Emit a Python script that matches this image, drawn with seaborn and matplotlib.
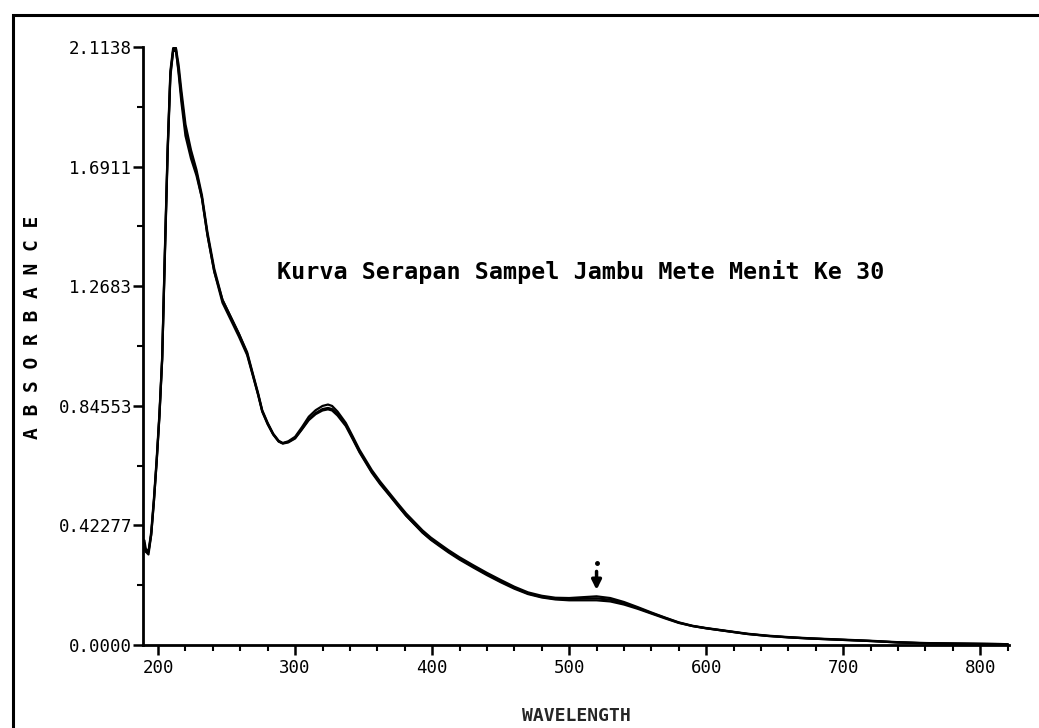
import numpy as np
import pandas as pd
import matplotlib
matplotlib.use("Agg")
import matplotlib.pyplot as plt
import seaborn as sns
from matplotlib.patches import Rectangle
from matplotlib.ticker import FixedLocator, MultipleLocator

# ---------------- data ----------------
wavelength = [190, 191, 193, 195, 197, 199, 201, 203, 205, 207,
              209, 211, 213, 215, 217, 220, 224, 228, 232, 236,
              241, 247, 253, 259, 265, 269, 273, 276, 280, 284,
              288, 291, 295, 300, 305, 310, 315, 320, 324, 327,
              331, 337, 342, 347, 352, 356, 362, 369, 375, 381,
              387, 393, 399, 405, 412, 420, 430, 440, 450, 460,
              470, 480, 490, 500, 510, 520, 530, 540, 550, 560,
              570, 580, 590, 600, 615, 630, 645, 660, 675, 690,
              705, 720, 740, 760, 780, 800, 820]

scan_1 = [0.37, 0.34, 0.33, 0.40, 0.52, 0.66, 0.82, 1.02, 1.40, 1.76,
          2.03, 2.11, 2.11, 2.02, 1.92, 1.80, 1.72, 1.66, 1.58, 1.45,
          1.32, 1.22, 1.16, 1.10, 1.035, 0.962, 0.89, 0.83, 0.785, 0.747,
          0.722, 0.714, 0.720, 0.736, 0.770, 0.807, 0.830, 0.845, 0.850, 0.845,
          0.825, 0.785, 0.738, 0.690, 0.650, 0.618, 0.578, 0.536, 0.500, 0.465,
          0.435, 0.405, 0.380, 0.359, 0.335, 0.310, 0.282, 0.255, 0.230, 0.206,
          0.186, 0.174, 0.167, 0.166, 0.169, 0.172, 0.166, 0.152, 0.134, 0.115,
          0.097, 0.080, 0.068, 0.060, 0.050, 0.040, 0.033, 0.028, 0.024, 0.021,
          0.018, 0.015, 0.010, 0.007, 0.005, 0.004, 0.003]

scan_2 = [0.36, 0.33, 0.33, 0.39, 0.51, 0.65, 0.81, 1.01, 1.38, 1.74,
          2.01, 2.10, 2.11, 2.05, 1.96, 1.84, 1.75, 1.68, 1.59, 1.46,
          1.33, 1.22, 1.16, 1.10, 1.03, 0.958, 0.886, 0.827, 0.782, 0.745,
          0.720, 0.713, 0.718, 0.732, 0.764, 0.798, 0.820, 0.834, 0.838, 0.834,
          0.816, 0.778, 0.732, 0.684, 0.644, 0.612, 0.572, 0.530, 0.494, 0.458,
          0.428, 0.397, 0.372, 0.351, 0.327, 0.302, 0.274, 0.247, 0.222, 0.199,
          0.180, 0.168, 0.161, 0.158, 0.158, 0.158, 0.154, 0.143, 0.128, 0.111,
          0.094, 0.078, 0.067, 0.059, 0.049, 0.039, 0.032, 0.027, 0.023, 0.020,
          0.017, 0.014, 0.009, 0.006, 0.005, 0.004, 0.003]

scan_3 = [0.35, 0.33, 0.32, 0.39, 0.51, 0.65, 0.81, 1.01, 1.39, 1.75,
          2.02, 2.10, 2.10, 2.03, 1.94, 1.82, 1.74, 1.67, 1.58, 1.45,
          1.32, 1.21, 1.15, 1.09, 1.025, 0.955, 0.884, 0.825, 0.780, 0.744,
          0.719, 0.712, 0.716, 0.730, 0.762, 0.795, 0.816, 0.829, 0.833, 0.829,
          0.811, 0.774, 0.728, 0.681, 0.641, 0.609, 0.569, 0.528, 0.492, 0.457,
          0.427, 0.398, 0.374, 0.354, 0.330, 0.305, 0.277, 0.250, 0.225, 0.202,
          0.182, 0.170, 0.163, 0.162, 0.164, 0.165, 0.160, 0.148, 0.131, 0.113,
          0.096, 0.079, 0.067, 0.059, 0.049, 0.039, 0.032, 0.027, 0.023, 0.020,
          0.017, 0.014, 0.009, 0.006, 0.005, 0.004, 0.003]

y_ticks = [0.0, 0.42277, 0.84553, 1.2683, 1.6911, 2.1138]
y_tick_labels = ["0.0000", "0.42277", "0.84553", "1.2683", "1.6911", "2.1138"]
y_minor_ticks = [0.211385, 0.63415, 1.0569, 1.4797, 1.90245]
x_ticks = [200, 300, 400, 500, 600, 700, 800]
title_text = "Kurva Serapan Sampel Jambu Mete Menit Ke 30"
x_label = "WAVELENGTH"
y_label = "A B S O R B A N C E"
marker_wavelength = 520

# ---------------- style ----------------
sns.set_theme(style="ticks")
mono = ["DejaVu Sans Mono", "DejaVu Sans"]
plt.rcParams["font.family"] = mono

fig = plt.figure(figsize=(10.39, 7.28), dpi=100)
ax = fig.add_axes([143 / 1039, 1 - 645 / 728, (1009 - 143) / 1039, (645 - 47) / 728])

wide = pd.DataFrame({"wavelength": wavelength, "1": scan_1, "2": scan_2, "3": scan_3})
df = wide.melt(id_vars="wavelength", var_name="scan", value_name="absorbance")
sns.lineplot(data=df, x="wavelength", y="absorbance", units="scan", estimator=None,
             color="black", linewidth=1.6, ax=ax, legend=False, sort=False,
             solid_joinstyle="round", solid_capstyle="round")

ax.set_xlim(189, 821)
ax.set_ylim(0, 2.1138)
ax.spines["top"].set_visible(False)
ax.spines["right"].set_visible(False)
for s in ("left", "bottom"):
    ax.spines[s].set_linewidth(2.0)
    ax.spines[s].set_color("black")

ax.xaxis.set_major_locator(FixedLocator(x_ticks))
ax.xaxis.set_minor_locator(MultipleLocator(20))
ax.yaxis.set_major_locator(FixedLocator(y_ticks))
ax.yaxis.set_minor_locator(FixedLocator(y_minor_ticks))
ax.set_yticklabels(y_tick_labels)
ax.set_xticklabels([str(v) for v in x_ticks])
ax.tick_params(axis="both", which="major", length=7, width=1.8, color="black",
               labelsize=12.5, labelcolor="black")
ax.tick_params(axis="both", which="minor", length=4, width=1.5, color="black")
ax.tick_params(axis="y", pad=1)
ax.tick_params(axis="x", pad=3)

ax.set_xlabel(x_label, fontsize=13, fontweight="bold", labelpad=22)
ax.set_ylabel("")

fig.text(33 / 1039, 1 - 327 / 728, y_label, rotation=90, ha="center", va="center",
         fontsize=14, fontweight="bold", color="black")
fig.text(581 / 1039, 1 - 272 / 728, title_text, ha="center", va="center",
         fontsize=16.8, fontweight="bold", color="black")

# peak marker near 520 nm
ax.annotate("", xy=(marker_wavelength, 0.185), xytext=(marker_wavelength, 0.27),
            arrowprops=dict(arrowstyle="-|>", color="black", lw=2.5, mutation_scale=14))
ax.plot([marker_wavelength], [0.29], marker="o", markersize=2.5, color="black")

# outer page frame
fig.add_artist(Rectangle((13 / 1039, -0.2), 1.2, 1.2 - 15 / 728,
                         transform=fig.transFigure, fill=False, lw=2.2, color="black"))

fig.savefig("out.png", dpi=100)
